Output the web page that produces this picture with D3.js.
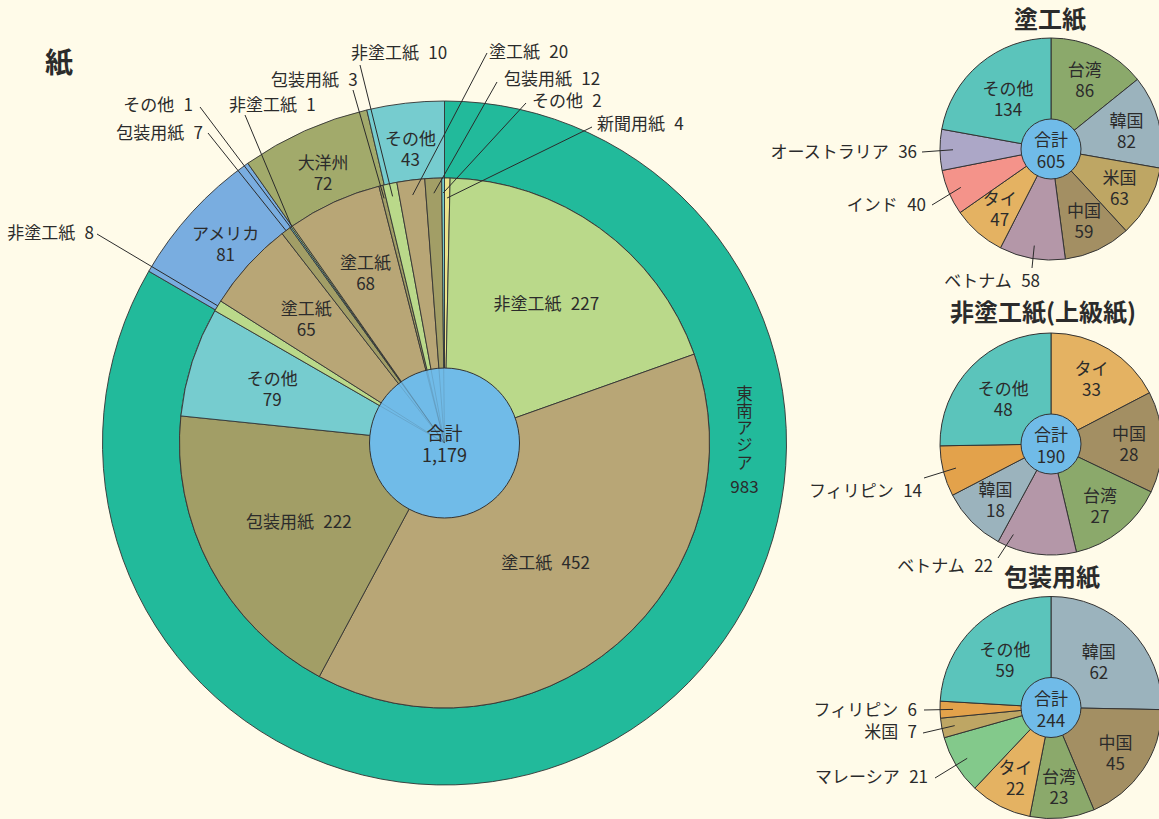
<!DOCTYPE html>
<html>
<head>
<meta charset="utf-8">
<script src="https://cdn.jsdelivr.net/npm/d3@7"></script>
<style>
  html, body { margin: 0; padding: 0; background: #fffbe9; }
  svg text { font-family: "Noto Sans CJK JP", "Noto Sans", sans-serif; fill: #2b2b2b; }
</style>
</head>
<body>
<svg id="chart" width="1159" height="819"></svg>
<script>
// ---- Paper shipments by destination (outer ring) ----
const regions = ["東南アジア", "アメリカ", "大洋州", "その他"];
const regionValues = [983, 81, 72, 43];

// ---- Products within each destination (inner pie), clockwise from 12 o'clock ----
const productRegion = ["東南アジア", "東南アジア", "東南アジア", "東南アジア", "東南アジア",
                       "アメリカ", "アメリカ", "アメリカ", "アメリカ",
                       "大洋州", "大洋州", "大洋州",
                       "その他", "その他", "その他", "その他"];
const productNames = ["新聞用紙", "非塗工紙", "塗工紙", "包装用紙", "その他",
                      "非塗工紙", "塗工紙", "包装用紙", "その他",
                      "非塗工紙", "塗工紙", "包装用紙",
                      "非塗工紙", "塗工紙", "包装用紙", "その他"];
const productValues = [4, 227, 452, 222, 79,
                       8, 65, 7, 1,
                       1, 68, 3,
                       10, 20, 12, 2];

// ---- Breakdown by country ----
const coatedCountries = ["台湾", "韓国", "米国", "中国", "ベトナム", "タイ", "インド", "オーストラリア", "その他"];
const coatedValues = [86, 82, 63, 59, 58, 47, 40, 36, 134];
const uncoatedCountries = ["タイ", "中国", "台湾", "ベトナム", "韓国", "フィリピン", "その他"];
const uncoatedValues = [33, 28, 27, 22, 18, 14, 48];
const packCountries = ["韓国", "中国", "台湾", "タイ", "マレーシア", "米国", "フィリピン", "その他"];
const packValues = [62, 45, 23, 22, 21, 7, 6, 59];
const pieTitles = ["塗工紙", "非塗工紙(上級紙)", "包装用紙"];
const pieTotals = [605, 190, 244];

// ---- Colours ----
const regionColor = d3.scaleOrdinal()
  .domain(regions)
  .range(["#22ba9b", "#79ade0", "#a2aa6b", "#76cccf"]);
const productColor = d3.scaleOrdinal()
  .domain(["新聞用紙", "非塗工紙", "塗工紙", "包装用紙", "その他"])
  .range(["#ece48c", "#bad98a", "#b8a676", "#a29e66", "#76cccf"]);
const countryColor = d3.scaleOrdinal()
  .domain(["台湾", "韓国", "米国", "中国", "ベトナム", "タイ", "インド", "オーストラリア", "その他", "フィリピン", "マレーシア"])
  .range(["#8ba96b", "#9bb3bd", "#bea664", "#a38f63", "#b497a8", "#e4b262", "#f4938a", "#aca7c7", "#5bc4bb", "#e3a24b", "#83c98b"]);
const centerFill = "#70bbe8";
const strokeCol = "#333";

const W = 1159, H = 819;
const svg = d3.select("#chart");
svg.append("rect").attr("width", W).attr("height", H).attr("fill", "#fffbe9");

const fmt = d3.format(",");
const polar = (a, r) => [r * Math.sin(a), -r * Math.cos(a)];
const mid = d => (d.startAngle + d.endAngle) / 2;
const rad = deg => deg * Math.PI / 180;

// "name  value" on a single line
function inlineLabel(g, x, y, name, value, anchor, size) {
  const t = g.append("text").attr("x", x).attr("y", y)
    .attr("text-anchor", anchor).attr("font-size", size);
  t.append("tspan").text(name);
  t.append("tspan").attr("dx", size * 0.55).text(value);
  return t;
}
// name above, value below, as one text block
function stackedLabel(g, x, y, name, value, size, gap) {
  const t = g.append("text").attr("text-anchor", "middle")
    .attr("dominant-baseline", "central").attr("font-size", size);
  t.append("tspan").attr("x", x).attr("y", y - gap).text(name);
  t.append("tspan").attr("x", x).attr("y", y + gap).text(value);
  return t;
}

// =================== Main chart: 紙 ===================
const M = { cx: 444.5, cy: 443, rOuter: 342, rRing: 265, rCenter: 75 };
const mainFont = 17;

svg.append("text").attr("x", 59).attr("y", 73).attr("text-anchor", "middle")
  .attr("font-size", 28).attr("font-weight", "bold").text("紙");

const gMain = svg.append("g").attr("transform", `translate(${M.cx},${M.cy})`);

const regionArcs = d3.pie().sort(null).value(d => d)(regionValues);
const ringArc = d3.arc().innerRadius(M.rRing).outerRadius(M.rOuter);
gMain.append("g").selectAll("path").data(regionArcs).join("path")
  .attr("d", ringArc)
  .attr("fill", (d, i) => regionColor(regions[i]))
  .attr("stroke", strokeCol).attr("stroke-width", 0.9);

const productArcs = d3.pie().sort(null).value(d => d)(productValues);
const wedgeArc = d3.arc().innerRadius(0).outerRadius(M.rRing);
gMain.append("g").selectAll("path").data(productArcs).join("path")
  .attr("d", wedgeArc)
  .attr("fill", (d, i) => productColor(productNames[i]))
  .attr("stroke", strokeCol).attr("stroke-width", 0.9);

// leader lines for the narrow slices
const mainCallouts = [
  { i: 5,  x: 94,  y: 239, anchor: "end",   lx: 97,  ly: 234, r: 265 },
  { i: 7,  x: 203, y: 139, anchor: "end",   lx: 208, ly: 133, r: 265 },
  { i: 8,  x: 193, y: 111, anchor: "end",   lx: 200, ly: 107, r: 265 },
  { i: 9,  x: 229, y: 111, anchor: "start", lx: 245, ly: 115, r: 265 },
  { i: 11, x: 271, y: 86,  anchor: "start", lx: 353, ly: 90,  r: 252 },
  { i: 12, x: 351, y: 59,  anchor: "start", lx: 360, ly: 65,  r: 252 },
  { i: 13, x: 489, y: 58,  anchor: "start", lx: 487, ly: 53,  r: 250 },
  { i: 14, x: 504, y: 85,  anchor: "start", lx: 497, ly: 82,  r: 250 },
  { i: 15, x: 532, y: 107, anchor: "start", lx: 526, ly: 103, r: 250 },
  { i: 0,  x: 597, y: 130, anchor: "start", lx: 592, ly: 127, r: 245 }
];
mainCallouts.forEach(c => {
  const [ex, ey] = polar(mid(productArcs[c.i]), c.r);
  gMain.append("line")
    .attr("x1", c.lx - M.cx).attr("y1", c.ly - M.cy)
    .attr("x2", ex).attr("y2", ey)
    .attr("stroke", "#2b2b2b").attr("stroke-width", 1);
  inlineLabel(svg, c.x, c.y, productNames[c.i], productValues[c.i], c.anchor, mainFont);
});

// centre disc with total
gMain.append("circle").attr("r", M.rCenter).attr("fill", centerFill)
  .attr("stroke", strokeCol).attr("stroke-width", 1);
// slice edges of the smaller destinations show faintly through the disc
productArcs.forEach((d, i) => {
  if (productRegion[i] === regions[0]) return;
  const [x, y] = polar(d.startAngle, M.rCenter);
  gMain.append("line").attr("x1", 0).attr("y1", 0).attr("x2", x).attr("y2", y)
    .attr("stroke", "#333").attr("stroke-opacity", 0.15).attr("stroke-width", 1);
});
stackedLabel(gMain, 0, 0, "合計", fmt(d3.sum(regionValues)), 18, 11);

// labels inside the inner wedges
const innerLabels = [
  { i: 1,  r: 174, stacked: false },
  { i: 2,  r: 155, stacked: false },
  { i: 3,  r: 165, stacked: false },
  { i: 4,  r: 181, stacked: true },
  { i: 6,  r: 187, stacked: true },
  { i: 10, r: 189, stacked: true }
];
innerLabels.forEach(l => {
  const [x, y] = polar(mid(productArcs[l.i]), l.r);
  if (l.stacked) {
    stackedLabel(gMain, x, y, productNames[l.i], productValues[l.i], mainFont, 10.5);
  } else {
    inlineLabel(gMain, x, y, productNames[l.i], productValues[l.i], "middle", mainFont)
      .attr("dominant-baseline", "central");
  }
});

// labels on the outer ring
[1, 2, 3].forEach(i => {
  const [x, y] = polar(mid(regionArcs[i]), 297);
  stackedLabel(gMain, x, y, regions[i], regionValues[i], mainFont, 10.5);
});
{
  // the largest destination is written vertically on the right-hand side of the ring
  const [x, y] = polar(rad(90), 300);
  gMain.append("text").attr("x", x).attr("y", y - 58)
    .attr("font-size", 16.5)
    .style("writing-mode", "vertical-rl")
    .style("text-orientation", "upright")
    .style("letter-spacing", "0.8px")
    .text(regions[0]);
  gMain.append("text").attr("x", x).attr("y", y + 42)
    .attr("text-anchor", "middle").attr("dominant-baseline", "central")
    .attr("font-size", mainFont).text(regionValues[0]);
}

// =================== Country breakdown pies ===================
const smallPies = [
  { names: coatedCountries, values: coatedValues, cx: 1051, cy: 149, tx: 1050, ty: 28,
    callouts: [
      { name: "オーストラリア", x: 917, y: 158, lx: 922, ly: 152 },
      { name: "インド", x: 926, y: 211, lx: 932, ly: 205 },
      { name: "ベトナム", x: 1040, y: 287, lx: 1032, ly: 268 }
    ] },
  { names: uncoatedCountries, values: uncoatedValues, cx: 1051, cy: 444, tx: 1043, ty: 321,
    callouts: [
      { name: "フィリピン", x: 922, y: 497, lx: 924, ly: 478 },
      { name: "ベトナム", x: 993, y: 572, lx: 998, ly: 558, shift: 15 }
    ] },
  { names: packCountries, values: packValues, cx: 1051, cy: 707.5, tx: 1052, ty: 586,
    callouts: [
      { name: "フィリピン", x: 917, y: 716, lx: 924, ly: 710 },
      { name: "米国", x: 917, y: 738, lx: 923, ly: 733 },
      { name: "マレーシア", x: 928, y: 783, lx: 935, ly: 778 }
    ] }
];
const S = { r: 111, rCenter: 30 };

smallPies.forEach((p, pi) => {
  svg.append("text").attr("x", p.tx).attr("y", p.ty).attr("text-anchor", "middle")
    .attr("font-size", 24).attr("font-weight", "bold").text(pieTitles[pi]);

  const g = svg.append("g").attr("transform", `translate(${p.cx},${p.cy})`);
  const arcs = d3.pie().sort(null).value(d => d)(p.values);
  g.selectAll("path").data(arcs).join("path")
    .attr("d", d3.arc().innerRadius(0).outerRadius(S.r))
    .attr("fill", (d, i) => countryColor(p.names[i]))
    .attr("stroke", strokeCol).attr("stroke-width", 1);

  const outside = new Set(p.callouts.map(c => c.name));
  arcs.forEach((d, i) => {
    if (outside.has(p.names[i])) return;
    const span = d.endAngle - d.startAngle;
    const [x, y] = polar(mid(d), span > rad(75) ? 67 : 78);
    stackedLabel(g, x, y, p.names[i], p.values[i], 17, 10.5);
  });

  p.callouts.forEach(c => {
    const i = p.names.indexOf(c.name);
    const a = mid(arcs[i]) + rad(c.shift || 0);
    const [ex, ey] = polar(a, 98);
    g.append("line")
      .attr("x1", c.lx - p.cx).attr("y1", c.ly - p.cy)
      .attr("x2", ex).attr("y2", ey)
      .attr("stroke", "#2b2b2b").attr("stroke-width", 1);
    inlineLabel(svg, c.x, c.y, c.name, p.values[i], "end", 17);
  });

  g.append("circle").attr("r", S.rCenter).attr("fill", centerFill)
    .attr("stroke", strokeCol).attr("stroke-width", 1);
  stackedLabel(g, 0, 0, "合計", pieTotals[pi], 17, 11);
});
</script>
</body>
</html>
